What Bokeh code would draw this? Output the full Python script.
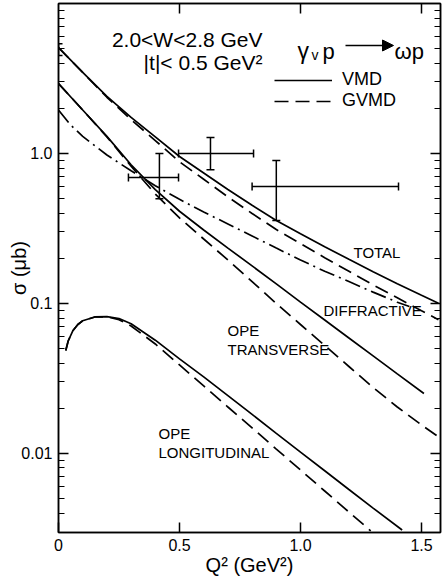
import numpy as np
from bokeh.plotting import figure
from bokeh.models import (FixedTicker, LogAxis, LinearAxis, Label, Legend, LegendItem,
                          CustomJSTickFormatter, Arrow, NormalHead, Range1d)
from bokeh.embed import file_html
from bokeh.resources import INLINE

# ---------------- data ----------------
q2_total_vmd = [0.0, 0.1, 0.2, 0.3, 0.4, 0.5, 0.6, 0.7, 0.8, 0.9, 1.0, 1.1, 1.2, 1.3, 1.4, 1.5, 1.57]
sig_total_vmd = [5.09, 3.47, 2.40, 1.74, 1.29, 0.955, 0.741, 0.575, 0.452, 0.357, 0.292, 0.239,
                 0.197, 0.163, 0.1355, 0.1135, 0.1005]

q2_total_gvmd = [0.0, 0.1, 0.2, 0.3, 0.4, 0.5, 0.6, 0.7, 0.8, 0.9, 1.0, 1.1, 1.2, 1.3, 1.4, 1.5, 1.57]
sig_total_gvmd = [5.09, 3.47, 2.37, 1.68, 1.22, 0.881, 0.673, 0.513, 0.398, 0.311, 0.251, 0.202,
                  0.164, 0.133, 0.109, 0.0893, 0.078]

q2_diffr = [0.0, 0.05, 0.1, 0.2, 0.3, 0.4, 0.5, 0.6, 0.7, 0.8, 0.9, 1.0, 1.1, 1.2, 1.3, 1.4, 1.45]
sig_diffr = [1.95, 1.55, 1.30, 0.977, 0.767, 0.610, 0.495, 0.407, 0.339, 0.282, 0.234, 0.195,
             0.164, 0.140, 0.119, 0.102, 0.0955]

q2_ope_t_vmd = [0.0, 0.1, 0.2, 0.3, 0.4, 0.5, 0.6, 0.7, 0.8, 0.9, 1.0, 1.1, 1.2, 1.3, 1.4, 1.51]
sig_ope_t_vmd = [2.93, 1.95, 1.30, 0.841, 0.575, 0.412, 0.309, 0.234, 0.178, 0.135, 0.102, 0.0776,
                 0.0589, 0.0447, 0.0339, 0.0251]

q2_ope_t_gvmd = [0.0, 0.1, 0.2, 0.3, 0.4, 0.5, 0.6, 0.7, 0.8, 0.9, 1.0, 1.1, 1.2, 1.3, 1.4, 1.5, 1.57]
sig_ope_t_gvmd = [2.93, 1.95, 1.29, 0.822, 0.537, 0.372, 0.269, 0.195, 0.140, 0.100, 0.0724, 0.0525,
                  0.0380, 0.0275, 0.0204, 0.0155, 0.0129]

q2_ope_l_vmd = [0.03, 0.04, 0.06, 0.08, 0.1, 0.15, 0.2, 0.25, 0.3, 0.4, 0.5, 0.6, 0.7, 0.8, 0.9,
                1.0, 1.1, 1.2, 1.3, 1.42]
sig_ope_l_vmd = [0.0486, 0.0562, 0.0661, 0.0724, 0.0767, 0.0813, 0.0817, 0.0794, 0.0733, 0.0569,
                 0.0427, 0.0324, 0.0243, 0.0182, 0.0136, 0.0102, 0.00767, 0.00575, 0.00432, 0.00309]

q2_ope_l_gvmd = [0.03, 0.04, 0.06, 0.08, 0.1, 0.15, 0.2, 0.25, 0.3, 0.4, 0.5, 0.6, 0.7, 0.8, 0.9,
                 1.0, 1.1, 1.2, 1.29]
sig_ope_l_gvmd = [0.0486, 0.0562, 0.0661, 0.0724, 0.0767, 0.0813, 0.0815, 0.078, 0.0708, 0.0537,
                  0.0389, 0.0282, 0.0204, 0.0148, 0.0107, 0.00776, 0.00562, 0.00407, 0.00305]

# measured points with error bars
pt_q2 = [0.0, 0.417, 0.628, 0.90]
pt_q2_lo = [0.0, 0.289, 0.496, 0.80]
pt_q2_hi = [0.0, 0.496, 0.806, 1.405]
pt_sig = [4.95, 0.692, 1.0, 0.603]
pt_sig_lo = [4.5, 0.50, 0.78, 0.357]
pt_sig_hi = [5.4, 1.00, 1.28, 0.898]

x_ticks = [0.0, 0.5, 1.0, 1.5]
y_ticks = [0.01, 0.1, 1.0]
y_minor = [0.004, 0.005, 0.006, 0.007, 0.008, 0.009,
           0.02, 0.03, 0.04, 0.05, 0.06, 0.07, 0.08, 0.09,
           0.2, 0.3, 0.4, 0.5, 0.6, 0.7, 0.8, 0.9,
           2, 3, 4, 5, 6, 7, 8, 9]

# ---------------- figure ----------------
FONT = "Liberation Sans"
Y0 = 10 ** (-2.527)
Y1 = 10 ** 1.0

p = figure(width=443, height=584, y_axis_type="log",
           x_range=Range1d(0, 1.5785), y_range=Range1d(Y0, Y1),
           output_backend="svg", toolbar_location=None,
           min_border_left=58, min_border_right=3, min_border_top=3, min_border_bottom=52)
p.grid.visible = False
p.outline_line_color = "black"
p.outline_line_width = 1.5
p.background_fill_color = "white"
p.border_fill_color = "white"


def px(xp, yp):
    """page pixel of the reference -> data coordinates (for text placement only)"""
    return (xp - 58) / 242.0, 10 ** ((153 - yp) / 150.0)


xt = FixedTicker(ticks=x_ticks, minor_ticks=[])
yt = FixedTicker(ticks=y_ticks, minor_ticks=y_minor)
xfmt = CustomJSTickFormatter(code="return tick == 0 ? '0' : tick.toFixed(1);")
yfmt = CustomJSTickFormatter(code="return tick >= 1 ? tick.toFixed(1) : String(tick);")

for ax in p.xaxis:
    ax.ticker = xt
    ax.formatter = xfmt
    ax.axis_label = "Q² (GeV²)"
    ax.axis_label_standoff = 0
for ax in p.yaxis:
    ax.ticker = yt
    ax.formatter = yfmt
    ax.axis_label = "σ (μb)"
    ax.axis_label_standoff = -12

for ax in list(p.xaxis) + list(p.yaxis):
    ax.major_tick_in = 10
    ax.major_tick_out = 0
    ax.minor_tick_in = 6
    ax.minor_tick_out = 0
    ax.axis_line_width = 1.5
    ax.major_tick_line_width = 1.5
    ax.minor_tick_line_width = 1.2
    ax.major_label_text_font = FONT
    ax.major_label_text_font_size = "16px"
    ax.major_label_text_color = "black"
    ax.axis_label_text_font = FONT
    ax.axis_label_text_font_size = "20px"
    ax.axis_label_text_font_style = "normal"
    ax.axis_label_text_color = "black"
    ax.major_label_standoff = 6

right = LogAxis(ticker=yt, major_tick_in=10, major_tick_out=0, minor_tick_in=6, minor_tick_out=0,
                axis_line_width=1.5, major_tick_line_width=1.5, minor_tick_line_width=1.2,
                major_label_text_color=None, major_label_text_font_size="1px",
                major_label_standoff=0)
top = LinearAxis(ticker=FixedTicker(ticks=x_ticks[1:], minor_ticks=[]), major_tick_in=10,
                 major_tick_out=0, minor_tick_in=0, minor_tick_out=0,
                 axis_line_width=1.5, major_tick_line_width=1.5,
                 major_label_text_color=None, major_label_text_font_size="1px",
                 major_label_standoff=0)
p.add_layout(right, "right")
p.add_layout(top, "above")

LW = 1.7
DASH = "14 7"
DASHDOT = "16 5 2 5"
r_vmd = p.line(q2_total_vmd, sig_total_vmd, line_color="black", line_width=LW)
r_gvmd = p.line(q2_total_gvmd, sig_total_gvmd, line_color="black", line_width=LW, line_dash=DASH)
p.line(q2_diffr, sig_diffr, line_color="black", line_width=LW, line_dash=DASHDOT)
p.line(q2_ope_t_vmd, sig_ope_t_vmd, line_color="black", line_width=LW)
p.line(q2_ope_t_gvmd, sig_ope_t_gvmd, line_color="black", line_width=LW, line_dash=DASH)
p.line(q2_ope_l_vmd, sig_ope_l_vmd, line_color="black", line_width=LW)
p.line(q2_ope_l_gvmd, sig_ope_l_gvmd, line_color="black", line_width=LW, line_dash=DASH)

# error bars
q2 = np.array(pt_q2); ql = np.array(pt_q2_lo); qh = np.array(pt_q2_hi)
s = np.array(pt_sig); sl = np.array(pt_sig_lo); sh = np.array(pt_sig_hi)
p.segment(q2, sl, q2, sh, line_color="black", line_width=1.5)
hb = qh > ql
p.segment(ql[hb], s[hb], qh[hb], s[hb], line_color="black", line_width=1.5)
p.scatter(np.concatenate([q2, q2]), np.concatenate([sl, sh]), marker="dash", size=8,
          line_color="black", line_width=1.5)
p.scatter(np.concatenate([ql[hb], qh[hb]]), np.concatenate([s[hb], s[hb]]), marker="dash",
          size=8, angle=np.pi / 2, line_color="black", line_width=1.5)

# legend
legend = Legend(items=[LegendItem(label="VMD", renderers=[r_vmd]),
                       LegendItem(label="GVMD", renderers=[r_gvmd])],
                location=(216, 421), glyph_width=58, glyph_height=16, label_height=16,
                label_standoff=10, spacing=-4, padding=0, margin=0,
                border_line_color=None, background_fill_alpha=0,
                label_text_font=FONT, label_text_font_size="18px", label_text_color="black")
p.add_layout(legend)


def label(xp, yp, text, size, align="left", baseline="middle", angle=0.0):
    x, y = px(xp, yp)
    p.add_layout(Label(x=x, y=y, text=text, text_font=FONT, text_font_size=size,
                       text_align=align, text_baseline=baseline, text_color="black",
                       angle=angle))


label(262, 39, "2.0<W<2.8 GeV", "21px", align="right", baseline="alphabetic")
label(262, 62, "|t|< 0.5 GeV²", "21px", align="right", baseline="alphabetic")
label(297, 51, "γ", "23px", baseline="alphabetic")
label(311, 55, "v", "14px", baseline="alphabetic")
label(322, 51, "p", "22px", baseline="alphabetic")
label(394, 51, "ωp", "22px", baseline="alphabetic")
ax0, ay = px(345, 45)
ax1, _ = px(393, 45)
p.add_layout(Arrow(x_start=ax0, y_start=ay, x_end=ax1, y_end=ay, line_width=1.5,
                   end=NormalHead(size=11, fill_color="black", line_color="black")))

label(353, 252, "TOTAL", "15px")
label(323, 310, "DIFFRACTIVE", "15px")
label(227, 330, "OPE", "15px")
label(227, 349, "TRANSVERSE", "15px")
label(158, 433, "OPE", "15px")
label(158, 452, "LONGITUDINAL", "15px")

open("out.html", "w").write(file_html(p, INLINE))
